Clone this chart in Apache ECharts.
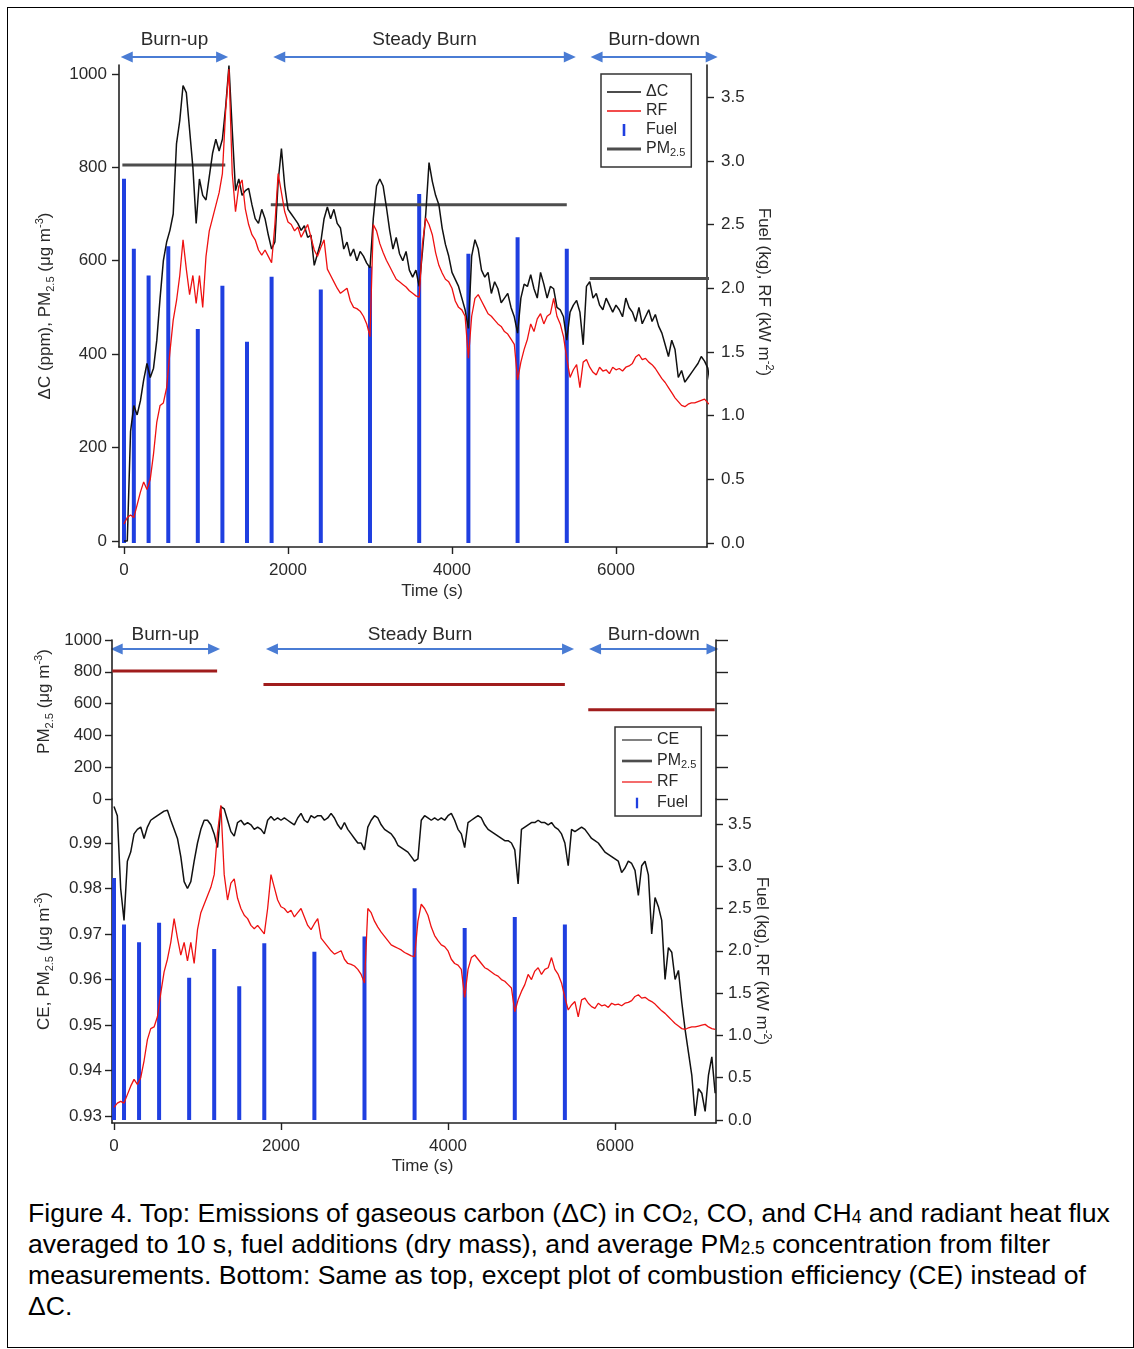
<!DOCTYPE html>
<html>
<head>
<meta charset="utf-8">
<script src="https://cdn.jsdelivr.net/npm/echarts@6/dist/echarts.min.js"></script>
<style>
html,body{margin:0;padding:0;background:#fff;}
#chart{position:absolute;left:0;top:0;width:1134px;height:1190px;}
#frame{position:absolute;left:7px;top:7px;width:1127px;height:1341px;border:1px solid #000;box-sizing:border-box;pointer-events:none;z-index:5;}
#caption{position:absolute;left:28px;top:1198px;font-family:"Liberation Sans",Arial,sans-serif;font-size:26.6px;line-height:31px;color:#000;white-space:nowrap;}
#caption .s{font-size:17.5px;line-height:0;vertical-align:-1px;}
</style>
</head>
<body>
<div id="chart"></div>
<div id="frame"></div>
<div id="caption">Figure 4. Top: Emissions of gaseous carbon (ΔC) in CO<span class="s">2</span>, CO, and CH<span class="s">4</span> and radiant heat flux<br>averaged to 10 s, fuel additions (dry mass), and average PM<span class="s">2.5</span> concentration from filter<br>measurements. Bottom: Same as top, except plot of combustion efficiency (CE) instead of<br>ΔC.</div>
<script>
// ---------------- DATA ----------------
const timeS = [0,40,80,120,160,200,240,280,320,360,
400,440,480,520,560,600,640,680,720,760,
800,840,880,920,960,1000,1040,1080,1120,1160,
1200,1240,1280,1320,1360,1400,1440,1480,1520,1560,
1600,1640,1680,1720,1760,1800,1840,1880,1920,1960,
2000,2040,2080,2120,2160,2200,2240,2280,2320,2360,
2400,2440,2480,2520,2560,2600,2640,2680,2720,2760,
2800,2840,2880,2920,2960,3000,3040,3080,3120,3160,
3200,3240,3280,3320,3360,3400,3440,3480,3520,3560,
3600,3640,3680,3720,3760,3800,3840,3880,3920,3960,
4000,4040,4080,4120,4160,4200,4240,4280,4320,4360,
4400,4440,4480,4520,4560,4600,4640,4680,4720,4760,
4800,4840,4880,4920,4960,5000,5040,5080,5120,5160,
5200,5240,5280,5320,5360,5400,5440,5480,5520,5560,
5600,5640,5680,5720,5760,5800,5840,5880,5920,5960,
6000,6040,6080,6120,6160,6200,6240,6280,6320,6360,
6400,6440,6480,6520,6560,6600,6640,6680,6720,6760,
6800,6840,6880,6920,6960,7000,7040,7080,7120,7160,
7200];

// Delta C (ppm)
const deltaC = [0,0,235,290,270,300,345,380,350,370,
430,520,600,640,665,700,850,900,975,960,
880,800,680,775,740,730,780,830,860,835,
860,930,1018,880,750,775,740,750,755,720,
690,680,710,690,655,625,640,770,840,760,
710,700,690,680,665,675,650,655,590,615,
640,690,715,690,710,680,670,625,640,610,
625,600,620,610,595,585,690,760,775,760,
715,665,625,650,615,600,620,580,565,580,
545,620,700,810,770,740,720,670,635,610,
575,560,545,520,495,455,610,645,625,580,
565,575,530,555,540,510,520,530,500,480,
445,520,550,545,570,540,520,575,550,520,
545,540,500,495,480,430,490,505,515,490,
420,545,555,520,530,505,495,520,505,490,
505,495,480,520,500,490,470,500,465,480,
495,470,485,460,445,420,395,430,410,350,
365,340,350,360,370,380,395,385,370,325,
370];

// Radiant heat flux RF (kW m-2)
const rf = [0.15,0.20,0.22,0.20,0.30,0.40,0.48,0.42,0.50,0.70,
0.95,1.08,1.10,1.22,1.50,1.75,1.90,2.10,2.38,2.15,
1.95,2.10,1.88,2.10,1.85,2.25,2.45,2.55,2.65,2.75,
2.90,3.40,3.72,2.90,2.60,2.80,2.85,2.62,2.50,2.42,
2.38,2.30,2.26,2.30,2.25,2.20,2.50,2.90,2.75,2.60,
2.52,2.50,2.45,2.48,2.40,2.45,2.50,2.40,2.30,2.25,
2.32,2.38,2.15,2.10,2.05,2.00,1.96,1.98,2.00,1.90,
1.85,1.84,1.82,1.78,1.72,1.62,2.50,2.45,2.35,2.28,
2.22,2.17,2.12,2.07,2.05,2.03,2.01,1.98,1.96,1.94,
1.93,2.35,2.55,2.50,2.42,2.28,2.18,2.12,2.07,2.05,
2.00,1.90,1.85,1.83,1.78,1.45,1.78,1.92,1.95,1.90,
1.85,1.80,1.78,1.75,1.72,1.70,1.66,1.64,1.60,1.56,
1.28,1.42,1.52,1.60,1.72,1.66,1.76,1.80,1.72,1.78,
1.80,1.92,1.78,1.72,1.62,1.45,1.30,1.36,1.40,1.22,
1.42,1.44,1.38,1.34,1.32,1.38,1.35,1.36,1.33,1.38,
1.36,1.37,1.35,1.38,1.39,1.41,1.46,1.48,1.44,1.45,
1.42,1.40,1.37,1.33,1.29,1.26,1.22,1.18,1.14,1.11,
1.08,1.07,1.09,1.10,1.10,1.11,1.12,1.13,1.10,1.08,
1.07];

// Combustion efficiency CE
const ce = [0.998,0.996,0.980,0.973,0.986,0.988,0.992,0.993,0.9935,0.991,
0.9935,0.995,0.9955,0.996,0.9965,0.997,0.9972,0.995,0.993,0.991,
0.987,0.9815,0.980,0.9815,0.986,0.990,0.993,0.995,0.995,0.994,
0.992,0.989,0.998,0.9975,0.995,0.9925,0.9915,0.9945,0.995,0.994,
0.9945,0.994,0.993,0.9935,0.993,0.992,0.995,0.9958,0.995,0.9955,
0.995,0.9955,0.995,0.9945,0.994,0.9955,0.9965,0.995,0.9945,0.996,
0.9955,0.996,0.996,0.995,0.9955,0.9965,0.9955,0.994,0.993,0.9945,
0.993,0.992,0.991,0.990,0.990,0.9885,0.9935,0.995,0.996,0.9955,
0.994,0.993,0.9925,0.992,0.991,0.9895,0.989,0.9885,0.988,0.987,
0.986,0.9865,0.995,0.996,0.9955,0.995,0.9955,0.995,0.9955,0.995,
0.996,0.9965,0.995,0.993,0.992,0.989,0.9945,0.995,0.9955,0.996,
0.9955,0.994,0.993,0.9925,0.992,0.9915,0.991,0.9905,0.9905,0.990,
0.9885,0.981,0.993,0.9935,0.994,0.9945,0.9945,0.995,0.9945,0.9945,
0.994,0.9945,0.9935,0.993,0.992,0.990,0.985,0.993,0.9925,0.993,
0.9935,0.993,0.992,0.991,0.9905,0.990,0.989,0.988,0.9875,0.987,
0.9865,0.986,0.9835,0.9845,0.986,0.9855,0.984,0.9785,0.985,0.986,
0.983,0.970,0.978,0.976,0.973,0.960,0.967,0.966,0.960,0.962,
0.955,0.949,0.944,0.939,0.930,0.936,0.935,0.931,0.939,0.943,
0.935];

// Fuel additions (kg, dry mass)
const fuelTime = [0,120,300,540,900,1200,1500,1800,2400,3000,3600,4200,4800,5400];
const fuelMass = [2.86,2.31,2.10,2.33,1.68,2.02,1.58,2.09,1.99,2.17,2.74,2.27,2.40,2.31];

// Average PM2.5 per phase (ug m-3)
const pmStart = [-20,1790,5680];
const pmEnd = [1235,5400,7195];
const pmValue = [805,720,562];

// Phases
const phaseNames = ['Burn-up','Steady Burn','Burn-down'];
const phaseStart = [-40,1820,5690];
const phaseEnd = [1270,5510,7240];

// Tick labels
const xTicks = [0,2000,4000,6000];
const dcTicks = [0,200,400,600,800,1000];
const rightTicks = [0,0.5,1,1.5,2,2.5,3,3.5];
const pmTicks = [0,200,400,600,800,1000];
const ceTicks = [0.93,0.94,0.95,0.96,0.97,0.98,0.99];

// ---------------- CHART ----------------
const FONT = "'Liberation Sans', Arial, sans-serif";
const AX = '#222';
const TXT = '#2a2a2a';
const C_BLACK = '#111111';
const C_RED = '#ee1111';
const C_BLUE = '#1f3fe0';
const C_PM = '#4d4d4d';
const C_PMRED = '#a01c1c';
const C_PHASE = '#4a7cd4';

const richSub = {
  sub: {fontSize: 11, lineHeight: 11, verticalAlign: 'bottom', fontFamily: FONT, color: TXT},
  sup: {fontSize: 11, lineHeight: 11, verticalAlign: 'top', fontFamily: FONT, color: TXT}
};
const nameStyle = {fontSize: 17, fontFamily: FONT, color: TXT, lineHeight: 22, rich: richSub};

function pair(xs, ys) { return xs.map((x, i) => [x, ys[i]]); }
function pmData() {
  const d = [];
  for (let i = 0; i < pmValue.length; i++) {
    d.push([pmStart[i], pmValue[i]], [pmEnd[i], pmValue[i]]);
    if (i < pmValue.length - 1) d.push([pmEnd[i], null]);
  }
  return d;
}
const plain = v => String(v);

function valAxis(o) {
  const base = {
    type: 'value',
    splitLine: {show: false},
    nameMoveOverlap: false,
    axisLine: {show: true, onZero: false, lineStyle: {color: AX, width: 1.6}},
    axisTick: {show: true, length: 7, lineStyle: {color: AX, width: 1.4}, customValues: o.ticks},
    axisLabel: {show: true, color: TXT, fontSize: 17, fontFamily: FONT, margin: o.margin, customValues: o.ticks, formatter: o.fmt || plain},
    nameTextStyle: nameStyle
  };
  return Object.assign(base, o.extra);
}

const icLine = 'path://M0,0M34,15M0,6.8L34,6.8L34,8.2L0,8.2Z';
const icThick = 'path://M0,0M34,15M0,6L34,6L34,9L0,9Z';
const icFuel = 'path://M0,0M34,15M15.7,1.5L18.3,1.5L18.3,13.5L15.7,13.5Z';

function legendFmt(name) { return name === 'PM2.5' ? 'PM{sub|2.5}' : name; }
const legendText = {fontSize: 16, fontFamily: FONT, color: TXT, lineHeight: 18,
  rich: {sub: {fontSize: 11, lineHeight: 10, verticalAlign: 'bottom', fontFamily: FONT, color: TXT}}};

const option = {
  animation: false,
  backgroundColor: 'transparent',
  grid: [
    {left: 119, top: 65, width: 588, height: 482, outerBoundsMode: 'none', containLabel: false},
    {left: 112, top: 640, width: 604, height: 159, outerBoundsMode: 'none', containLabel: false},
    {left: 112, top: 799, width: 604, height: 324, outerBoundsMode: 'none', containLabel: false}
  ],
  legend: [
    {
      orient: 'vertical', left: 601, top: 74, padding: [9, 6, 9, 6], itemGap: 1,
      itemWidth: 34, itemHeight: 15, selectedMode: false,
      backgroundColor: '#fff', borderColor: '#333', borderWidth: 1.5,
      itemStyle: {borderWidth: 0}, lineStyle: {width: 0},
      formatter: legendFmt, textStyle: legendText,
      data: [
        {name: 'ΔC', icon: icLine, itemStyle: {color: C_BLACK}},
        {name: 'RF', icon: icLine, itemStyle: {color: C_RED}},
        {name: 'Fuel', icon: icFuel, itemStyle: {color: C_BLUE}},
        {name: 'PM2.5', icon: icThick, itemStyle: {color: C_PM}}
      ]
    },
    {
      orient: 'vertical', left: 615, top: 727, padding: [4, 5, 4, 7], itemGap: 3,
      itemWidth: 30, itemHeight: 15, selectedMode: false,
      backgroundColor: '#fff', borderColor: '#333', borderWidth: 1.5,
      itemStyle: {borderWidth: 0}, lineStyle: {width: 0},
      formatter: legendFmt, textStyle: legendText,
      data: [
        {name: 'CE', icon: icLine, itemStyle: {color: '#333'}},
        {name: 'PM2.5', icon: icThick, itemStyle: {color: C_PM}},
        {name: 'RF', icon: icLine, itemStyle: {color: C_RED}},
        {name: 'Fuel', icon: icFuel, itemStyle: {color: C_BLUE}}
      ]
    }
  ],
  xAxis: [
    valAxis({ticks: xTicks, margin: 15, extra: {
      gridIndex: 0, min: -61, max: 7110, position: 'bottom',
      name: 'Time (s)', nameLocation: 'middle', nameGap: 36,
      nameTextStyle: {fontSize: 17, fontFamily: FONT, color: TXT, padding: [0, 0, 0, 38]}
    }}),
    {type: 'value', gridIndex: 1, min: -24, max: 7210, show: false, splitLine: {show: false}},
    valAxis({ticks: xTicks, margin: 15, extra: {
      gridIndex: 2, min: -24, max: 7210, position: 'bottom',
      name: 'Time (s)', nameLocation: 'middle', nameGap: 35,
      nameTextStyle: {fontSize: 17, fontFamily: FONT, color: TXT, padding: [0, 0, 0, 17]}
    }})
  ],
  yAxis: [
    valAxis({ticks: dcTicks, margin: 12, extra: {
      gridIndex: 0, min: -12.8, max: 1019, position: 'left',
      name: 'ΔC (ppm), PM{sub|2.5} (μg m{sup|-3})', nameLocation: 'middle', nameGap: 63, nameRotate: 90
    }}),
    valAxis({ticks: rightTicks, margin: 14, fmt: v => v.toFixed(1), extra: {
      gridIndex: 0, min: -0.031, max: 3.752, position: 'right',
      name: 'Fuel (kg), RF (kW m{sup|-2})', nameLocation: 'middle', nameGap: 46, nameRotate: -90,
      nameTextStyle: Object.assign({}, nameStyle, {padding: [0, 28, 0, 0]})
    }}),
    valAxis({ticks: pmTicks, margin: 10, extra: {
      gridIndex: 1, min: 0, max: 1000, position: 'left',
      name: 'PM{sub|2.5} (μg m{sup|-3})', nameLocation: 'middle', nameGap: 57, nameRotate: 90,
      nameTextStyle: Object.assign({}, nameStyle, {padding: [0, 0, 0, 36]})
    }}),
    valAxis({ticks: pmTicks, margin: 10, extra: {
      gridIndex: 1, min: 0, max: 1000, position: 'right',
      axisLabel: {show: false},
      axisTick: {show: true, length: 12, lineStyle: {color: AX, width: 1.4}, customValues: pmTicks}
    }}),
    valAxis({ticks: ceTicks, margin: 10, fmt: v => v.toFixed(2), extra: {
      gridIndex: 2, min: 0.92846, max: 0.99967, position: 'left',
      name: 'CE, PM{sub|2.5} (μg m{sup|-3})', nameLocation: 'middle', nameGap: 57, nameRotate: 90
    }}),
    valAxis({ticks: rightTicks, margin: 12, fmt: v => v.toFixed(1), extra: {
      gridIndex: 2, min: -0.0355, max: 3.794, position: 'right',
      name: 'Fuel (kg), RF (kW m{sup|-2})', nameLocation: 'middle', nameGap: 35, nameRotate: -90
    }})
  ],
  series: [
    // ---- top ----
    {name: 'PM2.5', type: 'line', xAxisIndex: 0, yAxisIndex: 0, data: pmData(), symbol: 'none', clip: false,
      lineStyle: {color: C_PM, width: 3}, itemStyle: {color: C_PM}},
    {name: 'ΔC', type: 'line', xAxisIndex: 0, yAxisIndex: 0, data: pair(timeS, deltaC), symbol: 'none', clip: false,
      lineStyle: {color: C_BLACK, width: 1.5}, itemStyle: {color: C_BLACK}},
    {name: 'RF', type: 'line', xAxisIndex: 0, yAxisIndex: 1, data: pair(timeS, rf), symbol: 'none', clip: false,
      lineStyle: {color: C_RED, width: 1.3}, itemStyle: {color: C_RED}},
    {name: 'Fuel', type: 'bar', xAxisIndex: 0, yAxisIndex: 1, data: pair(fuelTime, fuelMass), barWidth: 4,
      itemStyle: {color: C_BLUE}},
    // ---- bottom ----
    {name: 'PM2.5', type: 'line', xAxisIndex: 1, yAxisIndex: 2, data: pmData(), symbol: 'none', clip: false,
      lineStyle: {color: C_PMRED, width: 3}, itemStyle: {color: C_PMRED}},
    {name: 'CE', type: 'line', xAxisIndex: 2, yAxisIndex: 4, data: pair(timeS, ce), symbol: 'none',
      lineStyle: {color: C_BLACK, width: 1.5}, itemStyle: {color: C_BLACK}},
    {name: 'RF', type: 'line', xAxisIndex: 2, yAxisIndex: 5, data: pair(timeS, rf), symbol: 'none',
      lineStyle: {color: C_RED, width: 1.3}, itemStyle: {color: C_RED}},
    {name: 'Fuel', type: 'bar', xAxisIndex: 2, yAxisIndex: 5, data: pair(fuelTime, fuelMass), barWidth: 4,
      itemStyle: {color: C_BLUE}}
  ]
};

const chart = echarts.init(document.getElementById('chart'), null, {renderer: 'canvas'});
chart.setOption(option);

// Phase annotations positioned through the x axes
function phaseElements(xAxisIndex, yText, yArrow) {
  const els = [];
  for (let i = 0; i < phaseNames.length; i++) {
    const a = chart.convertToPixel({xAxisIndex: xAxisIndex}, phaseStart[i]);
    const b = chart.convertToPixel({xAxisIndex: xAxisIndex}, phaseEnd[i]);
    const h = 12, w = 5.5;
    els.push({type: 'line', silent: true, shape: {x1: a + h - 2, y1: yArrow, x2: b - h + 2, y2: yArrow},
      style: {stroke: C_PHASE, lineWidth: 2}});
    els.push({type: 'polygon', silent: true, shape: {points: [[a, yArrow], [a + h, yArrow - w], [a + h, yArrow + w]]},
      style: {fill: C_PHASE}});
    els.push({type: 'polygon', silent: true, shape: {points: [[b, yArrow], [b - h, yArrow - w], [b - h, yArrow + w]]},
      style: {fill: C_PHASE}});
    els.push({type: 'text', silent: true, x: (a + b) / 2, y: yText,
      style: {text: phaseNames[i], fill: TXT, font: '19px ' + FONT, align: 'center', verticalAlign: 'middle'}});
  }
  return els;
}
chart.setOption({graphic: {elements: phaseElements(0, 40, 57).concat(phaseElements(2, 635, 649))}});
</script>
</body>
</html>
